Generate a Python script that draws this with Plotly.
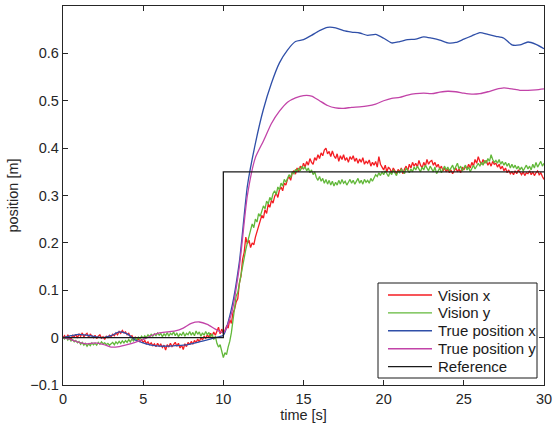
import plotly.graph_objects as go

# Time axes (s)
t_vision = [round(0.1 * i, 1) for i in range(301)]   # vision samples every 0.1 s
t_true = [round(0.5 * i, 1) for i in range(61)]      # ground truth every 0.5 s

# Vision-based position estimate, x (m)
vision_x = [
    0.000, 0.004, -0.002, 0.006, 0.001, -0.003, 0.005, 0.002, 0.007, -0.001,
    0.008, 0.003, 0.010, 0.002, 0.006, 0.009, 0.001, 0.007, 0.004, 0.000,
    0.005, -0.002, 0.003, 0.006, -0.001, 0.002, -0.004, 0.003, 0.000, 0.005,
    0.002, 0.007, 0.004, 0.010, 0.006, 0.013, 0.009, 0.015, 0.010, 0.012,
    0.006, 0.009, 0.002, 0.004, -0.003, 0.001, -0.006, -0.002, -0.008, -0.004,
    -0.010, -0.006, -0.013, -0.009, -0.015, -0.011, -0.017, -0.013, -0.019, -0.012,
    -0.018, -0.014, -0.021, -0.016, -0.026, -0.015, -0.020, -0.012, -0.019, -0.014,
    -0.010, -0.018, -0.012, -0.022, -0.016, -0.025, -0.013, -0.019, -0.010, -0.015,
    -0.008, -0.014, -0.006, -0.011, -0.003, -0.009, 0.000, -0.005, 0.003, -0.002,
    0.006, 0.001, 0.009, 0.003, 0.012, 0.005, 0.016, 0.022, 0.008, 0.018,
    0.010, 0.015, 0.024, 0.020, 0.038, 0.030, 0.052, 0.060, 0.075, 0.082,
    0.115, 0.130, 0.165, 0.180, 0.212, 0.198, 0.206, 0.190, 0.200, 0.196,
    0.212, 0.225, 0.238, 0.246, 0.258, 0.252, 0.270, 0.262, 0.282, 0.275,
    0.290, 0.284, 0.298, 0.305, 0.296, 0.312, 0.318, 0.310, 0.326, 0.322,
    0.334, 0.340, 0.332, 0.348, 0.352, 0.345, 0.358, 0.350, 0.362, 0.356,
    0.368, 0.360, 0.372, 0.364, 0.378, 0.370, 0.366, 0.380, 0.374, 0.386,
    0.378, 0.390, 0.384, 0.396, 0.400, 0.388, 0.393, 0.382, 0.394, 0.384,
    0.378, 0.388, 0.372, 0.384, 0.376, 0.386, 0.374, 0.380, 0.370, 0.382,
    0.376, 0.384, 0.372, 0.379, 0.368, 0.377, 0.370, 0.380, 0.366, 0.372,
    0.368, 0.375, 0.362, 0.370, 0.364, 0.372, 0.360, 0.382, 0.366, 0.360,
    0.354, 0.364, 0.350, 0.360, 0.356, 0.348, 0.358, 0.352, 0.346, 0.355,
    0.350, 0.358, 0.346, 0.356, 0.362, 0.352, 0.366, 0.358, 0.370, 0.362,
    0.368, 0.360, 0.374, 0.364, 0.358, 0.370, 0.362, 0.376, 0.366, 0.372,
    0.374, 0.364, 0.370, 0.360, 0.366, 0.356, 0.362, 0.352, 0.358, 0.350,
    0.356, 0.348, 0.354, 0.346, 0.352, 0.358, 0.350, 0.356, 0.348, 0.360,
    0.354, 0.362, 0.356, 0.366, 0.358, 0.370, 0.362, 0.376, 0.368, 0.382,
    0.372, 0.366, 0.376, 0.368, 0.374, 0.364, 0.370, 0.362, 0.372, 0.366,
    0.368, 0.360, 0.366, 0.356, 0.362, 0.352, 0.358, 0.348, 0.354, 0.346,
    0.350, 0.344, 0.352, 0.346, 0.354, 0.348, 0.344, 0.350, 0.342, 0.348,
    0.346, 0.352, 0.344, 0.350, 0.342, 0.348, 0.352, 0.344, 0.348, 0.340,
    0.334,
]

# Vision-based position estimate, y (m)
vision_y = [
    0.000, -0.003, 0.002, -0.005, -0.001, -0.007, -0.004, -0.009, -0.006, -0.011,
    -0.008, -0.014, -0.010, -0.016, -0.012, -0.018, -0.013, -0.017, -0.011, -0.015,
    -0.012, -0.016, -0.010, -0.014, -0.009, -0.013, -0.011, -0.015, -0.012, -0.016,
    -0.013, -0.010, -0.015, -0.009, -0.013, -0.008, -0.012, -0.007, -0.011, -0.006,
    -0.010, -0.004, -0.009, -0.003, -0.007, -0.001, -0.005, 0.001, -0.003, 0.003,
    -0.001, 0.004, 0.000, 0.006, 0.002, 0.007, 0.003, 0.008, 0.004, 0.010,
    0.005, 0.009, 0.002, 0.008, 0.004, 0.011, 0.003, 0.009, 0.006, 0.012,
    0.004, 0.010, 0.002, 0.008, 0.005, 0.012, 0.003, 0.009, 0.006, 0.013,
    0.005, 0.011, 0.004, 0.014, 0.007, 0.012, 0.003, 0.010, 0.005, 0.013,
    0.006, 0.011, 0.002, 0.008, -0.004, 0.003, -0.012, -0.020, -0.015, -0.030,
    -0.042, -0.032, -0.036, -0.020, -0.008, 0.010, 0.035, 0.060, 0.088, 0.095,
    0.110, 0.132, 0.150, 0.170, 0.186, 0.200, 0.215, 0.228, 0.240, 0.232,
    0.250, 0.244, 0.262, 0.256, 0.270, 0.278, 0.272, 0.288, 0.282, 0.296,
    0.290, 0.304, 0.310, 0.302, 0.318, 0.312, 0.326, 0.320, 0.334, 0.328,
    0.336, 0.344, 0.338, 0.350, 0.346, 0.355, 0.350, 0.358, 0.352, 0.362,
    0.356, 0.360, 0.352, 0.358, 0.348, 0.354, 0.344, 0.350, 0.338, 0.332,
    0.340, 0.330, 0.336, 0.326, 0.334, 0.324, 0.332, 0.322, 0.330, 0.320,
    0.328, 0.322, 0.332, 0.324, 0.334, 0.326, 0.330, 0.322, 0.328, 0.334,
    0.326, 0.332, 0.324, 0.330, 0.336, 0.326, 0.332, 0.324, 0.334, 0.328,
    0.332, 0.326, 0.336, 0.330, 0.338, 0.344, 0.340, 0.348, 0.342, 0.350,
    0.344, 0.352, 0.346, 0.340, 0.350, 0.344, 0.354, 0.348, 0.342, 0.352,
    0.348, 0.356, 0.350, 0.346, 0.358, 0.352, 0.348, 0.356, 0.350, 0.360,
    0.354, 0.362, 0.356, 0.350, 0.360, 0.354, 0.364, 0.356, 0.352, 0.362,
    0.356, 0.350, 0.360, 0.346, 0.352, 0.358, 0.348, 0.356, 0.362, 0.354,
    0.360, 0.352, 0.358, 0.364, 0.354, 0.362, 0.368, 0.356, 0.362, 0.352,
    0.358, 0.364, 0.354, 0.360, 0.350, 0.358, 0.364, 0.356, 0.362, 0.368,
    0.362, 0.370, 0.364, 0.374, 0.368, 0.378, 0.372, 0.386, 0.376, 0.370,
    0.374, 0.368, 0.376, 0.366, 0.372, 0.364, 0.370, 0.362, 0.368, 0.358,
    0.366, 0.358, 0.364, 0.356, 0.362, 0.354, 0.360, 0.352, 0.358, 0.364,
    0.356, 0.362, 0.354, 0.366, 0.358, 0.370, 0.360, 0.366, 0.372, 0.362,
    0.368,
]

# Ground-truth position, x (m)
true_x = [
    0.000, 0.004, 0.007, 0.005, 0.002, 0.000, 0.004, 0.012, 0.008, -0.005,
    -0.011, -0.016, -0.018, -0.018, -0.017, -0.016, -0.013, -0.009, -0.005, 0.000,
    0.005, 0.060, 0.160, 0.320, 0.410, 0.482, 0.537, 0.580, 0.607, 0.625,
    0.629, 0.638, 0.648, 0.655, 0.654, 0.648, 0.645, 0.643, 0.638, 0.640,
    0.632, 0.622, 0.625, 0.629, 0.630, 0.635, 0.632, 0.628, 0.622, 0.623,
    0.630, 0.637, 0.644, 0.640, 0.636, 0.632, 0.618, 0.618, 0.624, 0.619,
    0.610,
]

# Ground-truth position, y (m)
true_y = [
    0.000, -0.004, -0.010, -0.013, -0.011, -0.014, -0.020, -0.019, -0.015, -0.010,
    -0.004, 0.004, 0.010, 0.012, 0.014, 0.020, 0.030, 0.033, 0.028, 0.018,
    0.010, 0.050, 0.150, 0.300, 0.380, 0.415, 0.452, 0.478, 0.497, 0.506,
    0.511, 0.510, 0.500, 0.490, 0.485, 0.484, 0.486, 0.487, 0.489, 0.493,
    0.500, 0.505, 0.507, 0.512, 0.515, 0.516, 0.515, 0.518, 0.520, 0.519,
    0.516, 0.514, 0.515, 0.519, 0.524, 0.527, 0.525, 0.522, 0.522, 0.523,
    0.525,
]

# Step reference: 0 m until t = 10 s, then 0.35 m
ref_t = [0, 10, 10, 30]
ref_pos = [0, 0, 0.35, 0.35]

x_ticks = [0, 5, 10, 15, 20, 25, 30]
y_ticks = [-0.1, 0, 0.1, 0.2, 0.3, 0.4, 0.5, 0.6]
y_tick_text = ["\u22120.1", "0", "0.1", "0.2", "0.3", "0.4", "0.5", "0.6"]

series = [
    ("Vision x", t_vision, vision_x, "#f41c22", "linear"),
    ("Vision y", t_vision, vision_y, "#62b83a", "linear"),
    ("True position x", t_true, true_x, "#2f4fa8", "spline"),
    ("True position y", t_true, true_y, "#c243a8", "spline"),
    ("Reference", ref_t, ref_pos, "#1a1a1a", "linear"),
]

W, H = 553, 430
ML, MR, MT, MB = 63, 9, 6, 45
PW, PH = W - ML - MR, H - MT - MB
FONT = "Liberation Sans, Arial, sans-serif"
INK = "#262626"


def px_x(px):
    return (px - ML) / PW


def px_y(py):
    return (H - MB - py) / PH


fig = go.Figure()
for name, xs, ys, color, shape in series:
    fig.add_trace(go.Scatter(
        x=xs, y=ys, mode="lines", name=name, showlegend=False,
        line=dict(color=color, width=1.3, shape=shape, smoothing=0.6),
    ))

# Legend box drawn in the lower right corner of the axes
box_l, box_r, box_t, box_b = 378, 537, 283, 378
row0, row_step = 295, 17.9
shapes = [dict(type="rect", xref="paper", yref="paper",
               x0=px_x(box_l), x1=px_x(box_r), y0=px_y(box_b), y1=px_y(box_t),
               line=dict(color="#1a1a1a", width=1), fillcolor="white", layer="above")]
annotations = []
for i, (name, _, _, color, _) in enumerate(series):
    yc = row0 + i * row_step
    shapes.append(dict(type="line", xref="paper", yref="paper",
                       x0=px_x(388), x1=px_x(432), y0=px_y(yc), y1=px_y(yc),
                       line=dict(color=color, width=1.4), layer="above"))
    annotations.append(dict(xref="paper", yref="paper", x=px_x(436), y=px_y(yc),
                            xanchor="left", yanchor="middle", text=name, showarrow=False,
                            font=dict(family=FONT, size=15, color="#1a1a1a")))

axis_common = dict(
    showgrid=False, zeroline=False, showline=True, linecolor=INK, linewidth=1.4,
    mirror="ticks", ticks="inside", ticklen=5, tickcolor=INK, tickwidth=1,
    automargin=False,
    tickfont=dict(family=FONT, size=14.5, color=INK),
)

fig.update_layout(
    width=W, height=H,
    margin=dict(l=ML, r=MR, t=MT, b=MB),
    paper_bgcolor="white", plot_bgcolor="white",
    font=dict(family=FONT, size=14.5, color=INK),
    xaxis=dict(range=[0, 30], tickvals=x_ticks,
               title=dict(text="time [s]", standoff=3, font=dict(size=14.5)), **axis_common),
    yaxis=dict(range=[-0.1, 0.7], tickvals=y_ticks, ticktext=y_tick_text,
               title=dict(text="position [m]", standoff=8, font=dict(size=14.5)), **axis_common),
    shapes=shapes,
    annotations=annotations,
    showlegend=False,
)

fig.write_html("out.html")
